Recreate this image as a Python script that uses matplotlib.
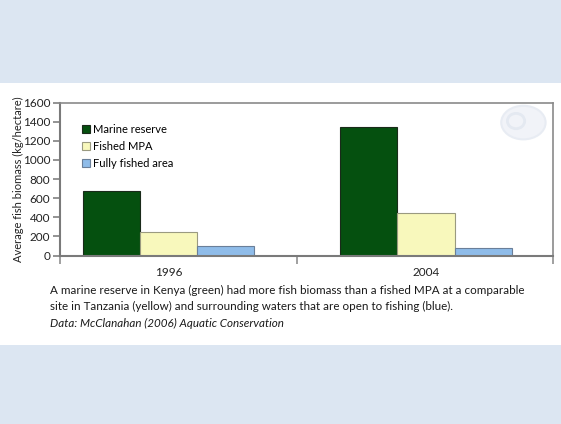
import matplotlib.pyplot as plt
from matplotlib.patches import Ellipse, Rectangle

# Fish biomass (kg/hectare) by site and survey year
years = ["1996", "2004"]
marine_reserve = [680, 1350]
fished_mpa = [250, 450]
fully_fished = [100, 75]

series_labels = ["Marine reserve", "Fished MPA", "Fully fished area"]
series_colors = ["#05500f", "#f8f8bc", "#8fbce9"]
edge_colors = ["#1a2a1a", "#9a9a80", "#6a7f99"]

caption_lines = ["A marine reserve in Kenya (green) had more fish biomass than a fished MPA at a comparable",
                 "site in Tanzania (yellow) and surrounding waters that are open to fishing (blue)."]
source = "Data: McClanahan (2006) Aquatic Conservation"

plt.rcParams['font.family'] = ['Lato', 'DejaVu Sans']

fig = plt.figure(figsize=(5.61, 4.24), dpi=100)
fig.patch.set_facecolor("white")

# light blue bands at top and bottom of the slide
band = "#dce6f2"
fig.add_artist(Rectangle((0, 1 - 83 / 424), 1, 83 / 424, transform=fig.transFigure,
                         facecolor=band, edgecolor="none", zorder=0))
fig.add_artist(Rectangle((0, 0), 1, 79 / 424, transform=fig.transFigure,
                         facecolor=band, edgecolor="none", zorder=0))

ax = fig.add_axes([60 / 561, 168.5 / 424, 493 / 561, 152.8 / 424])

bar_width = 0.222
x = range(len(years))
all_series = [marine_reserve, fished_mpa, fully_fished]
for k, vals in enumerate(all_series):
    pos = [i + (k - 1) * bar_width for i in x]
    ax.bar(pos, vals, bar_width, label=series_labels[k], color=series_colors[k],
           edgecolor=edge_colors[k], linewidth=0.8, zorder=2)

ax.set_xlim(-0.421, 1.493)
ax.set_ylim(0, 1600)
ax.set_yticks(range(0, 1601, 200))
ax.set_xticks(list(x))
ax.set_xticklabels(years)
ax.set_xticks([-0.421, 0.5, 1.493], minor=True)
ax.tick_params(axis="x", which="major", length=0, pad=8, labelsize=8.5, colors="#222222")
ax.tick_params(axis="x", which="minor", length=6, width=1.2, color="#909090")
ax.tick_params(axis="y", length=5, width=1.2, color="#808080", labelsize=8.5,
               labelcolor="#222222", pad=2)

for side in ["left", "bottom"]:
    ax.spines[side].set_color("#7a7a7a")
    ax.spines[side].set_linewidth(1.5)
for side in ["top", "right"]:
    ax.spines[side].set_color("#8a8a8a")
    ax.spines[side].set_linewidth(1.2)

ax.set_ylabel("Average fish biomass (kg/hectare)", fontsize=8, color="#222222")
ax.yaxis.set_label_coords(-0.073, 0.5)

ax.legend(loc="upper left", bbox_to_anchor=(0.035, 0.89), frameon=False, fontsize=8,
          handlelength=0.75, handleheight=0.75, handletextpad=0.3, labelspacing=0.55,
          borderaxespad=0)

# faint logo mark in the upper right corner
ax.add_artist(Ellipse((0.94, 0.87), 0.09, 0.22, transform=ax.transAxes,
                      facecolor="#f1f3f8", edgecolor="#e8ecf3", linewidth=1.5, zorder=1))
ax.add_artist(Ellipse((0.925, 0.88), 0.035, 0.1, transform=ax.transAxes,
                      facecolor="none", edgecolor="#e4e9f1", linewidth=2, zorder=1))

for n, line in enumerate(caption_lines):
    fig.text(50 / 561, 1 - (290 + 16.5 * n) / 424, line, fontsize=8.4, color="#1a1a1a",
             va="center")
fig.text(50 / 561, 1 - 323 / 424, source, fontsize=8.4, color="#1a1a1a",
         va="center", style="italic")

fig.savefig("out.png", dpi=100)
